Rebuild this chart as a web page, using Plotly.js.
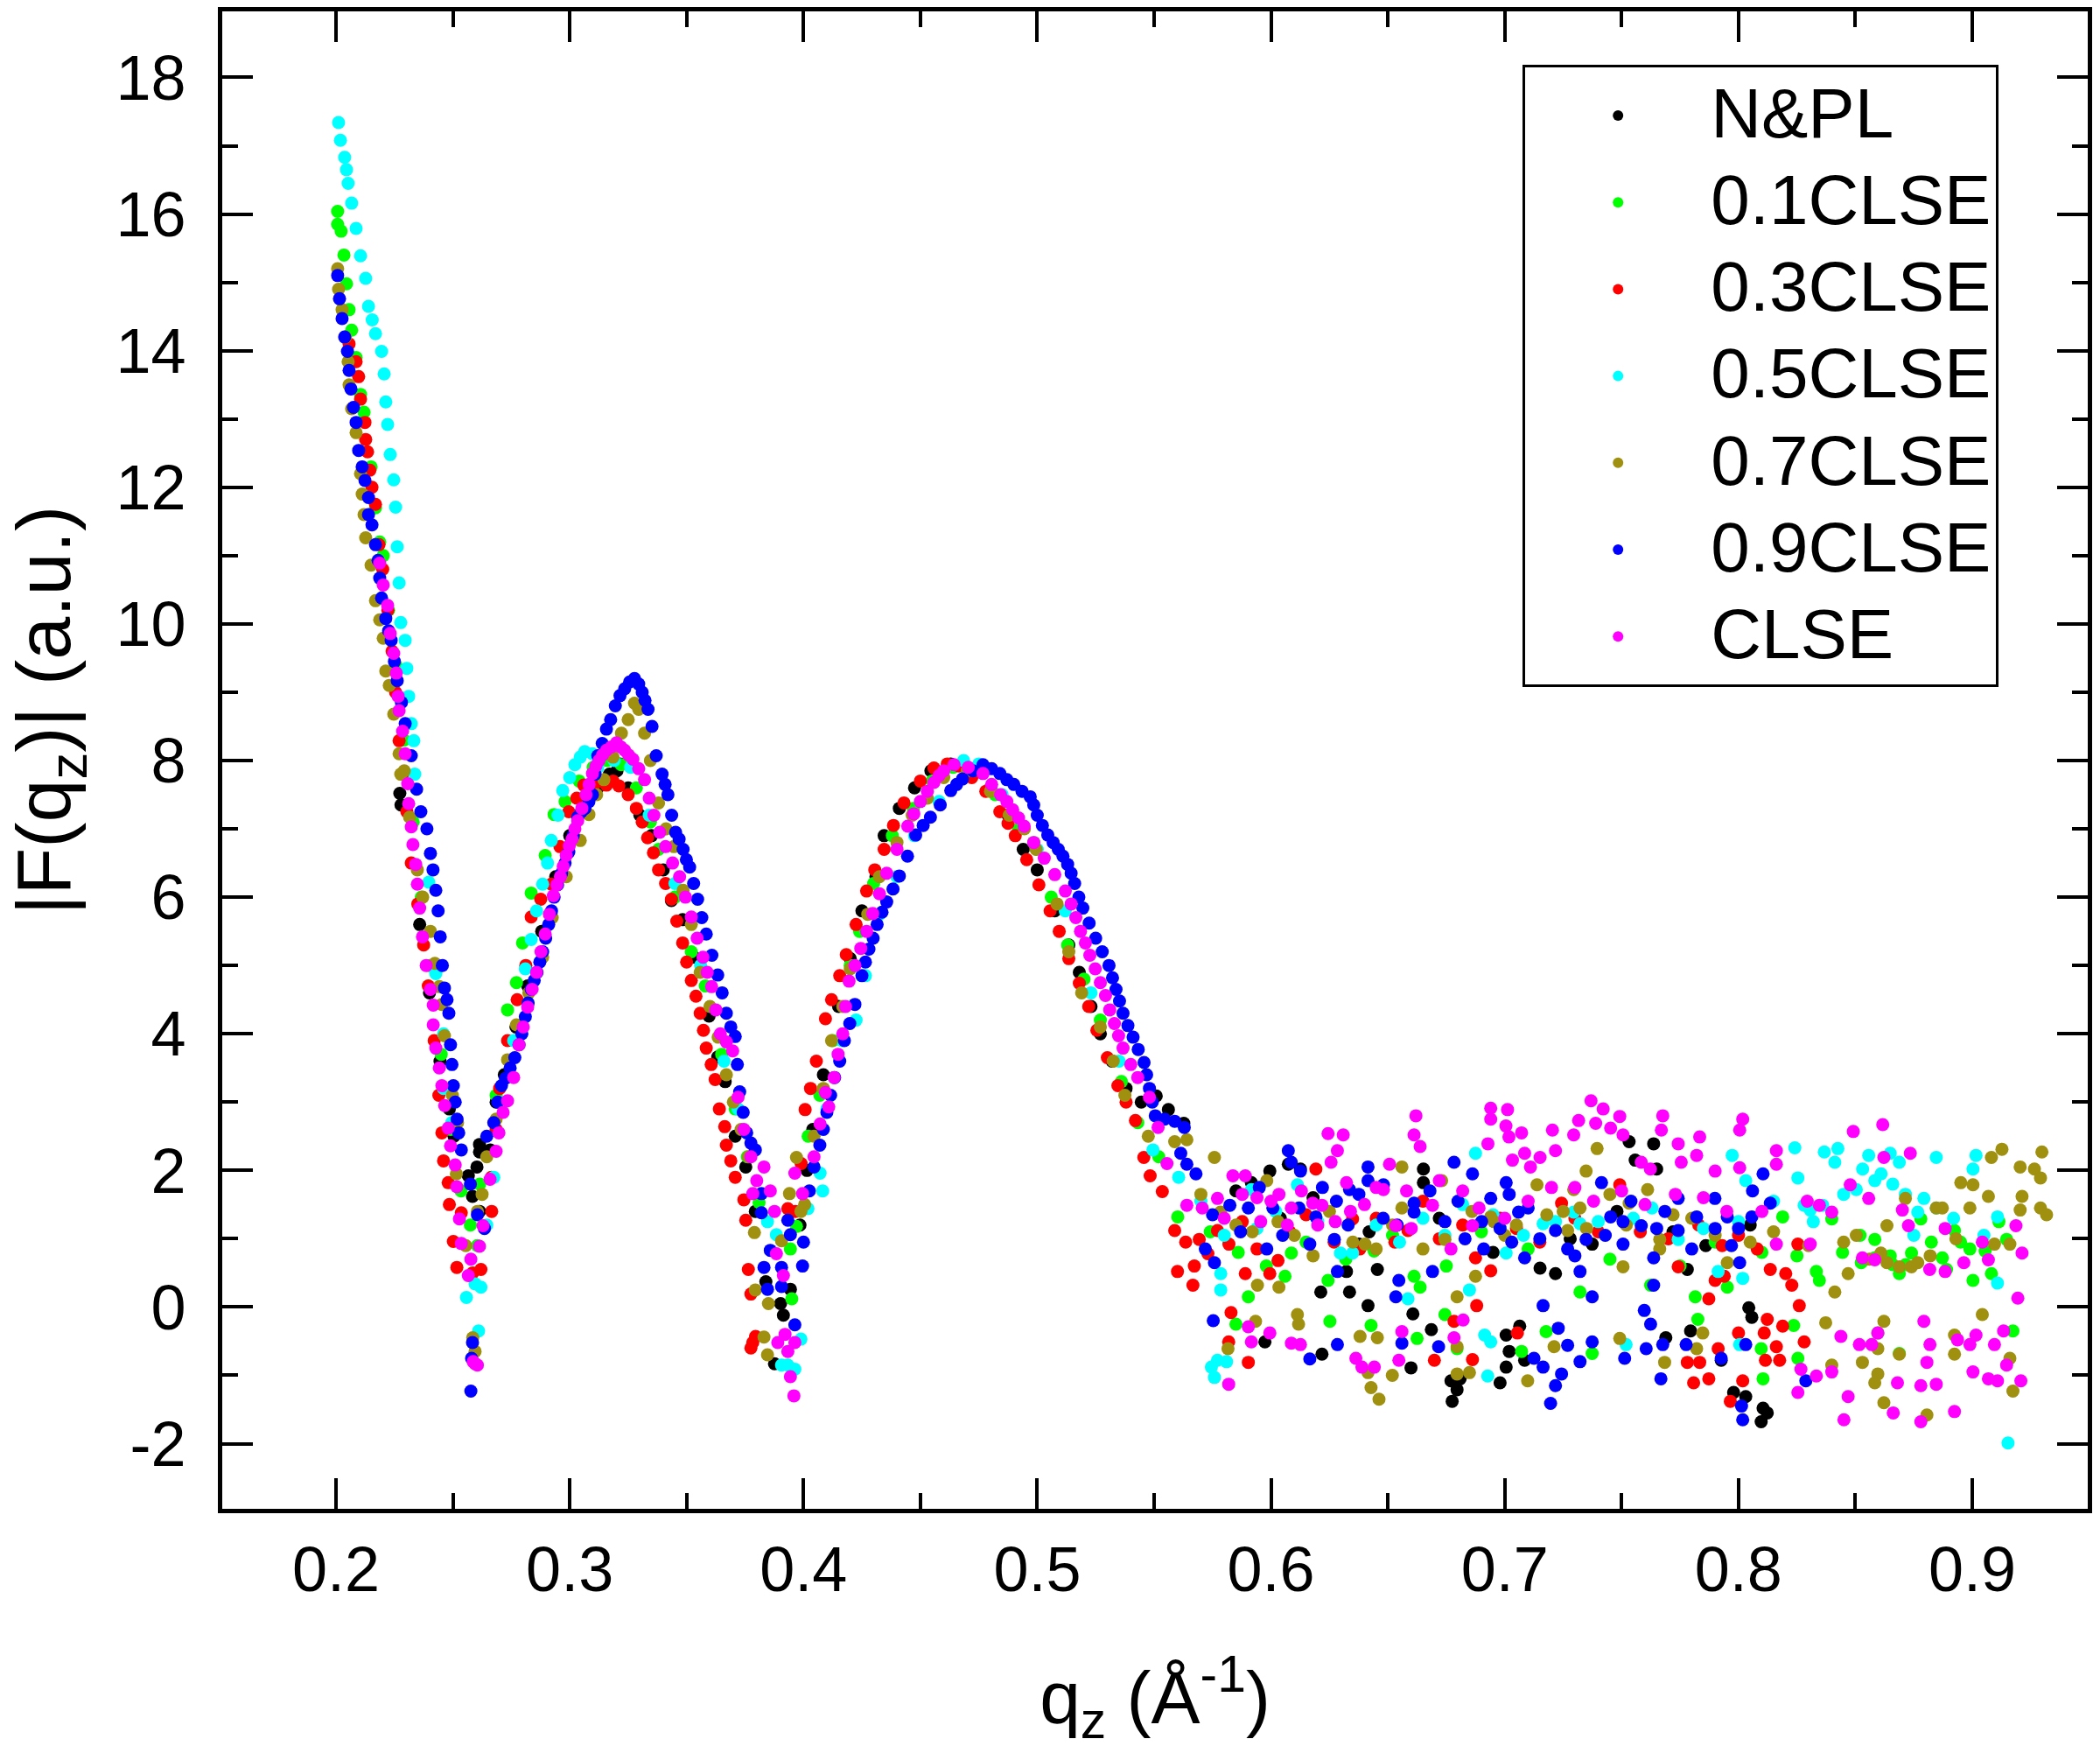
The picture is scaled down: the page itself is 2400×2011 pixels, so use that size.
<!DOCTYPE html>
<html><head><meta charset="utf-8">
<script src="https://cdn.plot.ly/plotly-3.0.1.min.js"></script>
<style>
html,body{margin:0;padding:0;background:#fff}
.legendtext{font-size:80px !important;transform:translateY(-4px)}
.g-ytitle{transform:translateY(-57px)}
</style></head><body><div id="chart" style="width:2400px;height:2011px"></div>
<script>
const seriesNames=["N&PL","0.1CLSE","0.3CLSE","0.5CLSE","0.7CLSE","0.9CLSE","CLSE"];
const seriesColors=["#000000","#00ff00","#ff0000","#00ffff","#a09010","#0000ff","#ff00ff"];
const xTickVals=[0.2,0.3,0.4,0.5,0.6,0.7,0.8,0.9];
const xTickText=["0.2","0.3","0.4","0.5","0.6","0.7","0.8","0.9"];
const yTickVals=[-2,0,2,4,6,8,10,12,14,16,18];
const yTickText=["-2","0","2","4","6","8","10","12","14","16","18"];

const npl=[[.2273,7.52],[.2278,7.35],[.2358,5.6],[.24,4.6],[.2445,3.6],[.2485,2.9],[.2505,2.5],[.2614,2.38],[.2614,2.27],[.2603,2.05],[.2566,1.92],[.2584,1.62],[.2614,1.4],
[.266,2.3],[.2685,3],[.272,3.4],[.277,4.1],[.282,4.7],[.288,5.5],[.294,6.3],[.3,6.9],[.306,7.3],[.312,7.6],[.317,7.8],[.3202,7.85],[.3215,7.95],[.325,7.6],[.33,7.2],[.335,6.9],[.34,6.4],[.3435,5.95],[.3483,5.67],[.3532,5.12],[.3596,4.26],[.3633,3.66],[.3665,3.3],[.3708,2.5],[.3753,2.05],[.3794,1.4],[.3839,.37],[.3902,.05],[.3914,-.12],[.3944,.26],[.3876,-.83],
[.3985,1.2],[.4015,2],[.404,2.6],[.4085,3.4],[.415,4.4],[.42,5.1],[.425,5.8],[.431,6.3],[.4345,6.9],[.441,7.3],[.4475,7.6],[.4545,7.85],[.463,7.95],[.472,7.8],[.48,7.6],[.4875,7.2],[.494,6.7],[.5,6.4],[.5075,5.8],[.5135,5.3],[.518,4.9],[.523,4.4],[.527,4],[.532,3.6],[.538,3.2],[.5445,3],[.5509,3.09],[.5561,2.89],[.5627,2.69],
[.5916,1.82],[.5995,1.99],[.6074,2.09],[.6126,2.02],[.6213,.22],[.6336,.22],[.6415,.02],[.6455,.55],[.6652,2.02],[.6652,1.82],[.7151,.57],[.7217,.49],[.7374,.92],[.7781,.55],[.7532,2.42],[.7637,2.39],[.7558,2.15],[.765,2.02],[.6376,.92],[.6323,.52],[.585,1.7],[.604,1.3],[.618,1.6],[.642,1.1],[.672,1.3],[.695,.8],[.728,1.0],[.748,1.4],[.772,1.1],[.786,.9],[.805,1.2],
[.5974,-.51],[.6218,-.69],[.6607,-.1],[.6599,-.89],[.6686,-.33],[.677,-1.08],[.6809,-1.05],[.6796,-1.21],[.6775,-1.38],[.698,-1.11],[.7006,-.88],[.7019,-.65],[.7006,-.41],[.7064,-.28],[.7085,-.78],[.7689,-.45],[.7795,-.35],[.7926,-.78],[.8044,-.01],[.8057,-.15],[.7979,-1.25],[.8031,-1.31],[.8105,-1.48],[.8123,-1.55],[.8097,-1.68]];

const cl01=[[.2007,16.04],[.2007,15.85],[.2022,15.75],[.2034,15.4],[.2045,14.98],[.2056,14.6],[.2067,14.3],[.2086,13.9],[.2105,13.36],[.212,13.1],[.215,12.3],[.2169,11.7],[.2187,11.2],[.2202,11],[.2225,10.2],[.2255,9.4],[.229,8.3],[.233,7.1],[.2365,6],[.24,5],[.245,3.7],[.249,2.6],[.2535,1.7],[.2575,1.2],[.2605,.9],
[.2615,1.8],[.2685,3.1],[.2734,4.35],[.2772,4.75],[.2798,5.33],[.2835,6.06],[.2895,6.61],[.2933,7.21],[.298,7.4],[.304,7.7],[.31,7.9],[.316,8],[.322,7.94],[.3285,7.6],[.3345,7.1],[.338,6.7],[.345,6],[.352,5.2],[.358,4.7],[.365,3.7],[.3708,2.9],[.376,2.2],[.381,1.53],[.3944,.85],[.395,.12],[.397,1.18],
[.402,2.5],[.407,3.1],[.4125,3.9],[.42,5],[.424,5.5],[.43,6.2],[.438,6.9],[.447,7.3],[.455,7.7],[.464,7.9],[.473,7.85],[.482,7.5],[.492,7],[.4985,6.8],[.506,6],[.513,5.3],[.52,4.8],[.527,4.2],[.536,3.3],[.543,2.7],[.552,2.2],[.5601,1.32],
[.5903,.15],[.6244,.39],[.6087,.79],[.606,.45],[.6441,.82],[.6612,.45],[.6638,.29],[.7322,.22],[.7624,.32],[.7815,.15],[.7952,.29],[.8189,1.32],[.8333,.52],[.8346,.39],[.8399,1.29],[.8583,.99],[.8649,.75],[.8688,.49],[.878,1.29],[.8872,.72],[.9003,.39],[.899,.85],[.9082,.49],[.9147,.99],[.8583,.72],[.874,.79],[.8924,1.12],[.9114,1.25],[.8445,.8],[.8525,.65],[.8715,.62],[.8825,.95],[.9055,.82],[.574,1.1],[.586,.8],[.598,.6],[.615,.95],[.632,.7],[.652,1.05],[.675,.6],[.69,1.1],[.71,.85],[.745,.7],[.775,.6],[.79,.95],[.81,.8],[.825,.75],[.852,1.05],[.866,.62],[.889,.55],[.895,.95],
[.585,-.25],[.6252,-.21],[.6428,-.27],[.6625,-.46],[.6744,-.11],[.6796,-.61],[.7177,-.36],[.7072,-.65],[.7374,-.68],[.7826,-.18],[.8105,-1.05],[.8097,-.61],[.8236,-.27],[.8254,-.75],[.8596,-.38],[.8688,-.68],[.9174,-.35]];

const cl03=[[.2056,14.1],[.2086,13.84],[.2097,13.62],[.2105,13.29],[.2124,12.95],[.2127,12.7],[.2135,12.52],[.2145,12.25],[.2154,12],[.2169,11.75],[.2184,11.16],[.22,10.8],[.2222,10.2],[.224,9.6],[.2255,9],[.227,8.29],[.2285,7.8],[.2303,7.25],[.2322,6.5],[.235,5.9],[.2375,5.3],[.2395,4.7],[.242,3.9],[.244,3.1],[.2453,2.55],[.246,2.14],[.248,1.82],[.2485,1.5],[.2536,1.38],[.2502,.96],[.2517,.58],[.2666,1.4],[.262,.55],[.2585,.5],
[.2665,1.9],[.2685,2.6],[.27,3.2],[.2734,3.9],[.2775,4.5],[.2812,5],[.2835,5.71],[.2876,5.97],[.2921,6.19],[.2958,6.74],[.2996,7.25],[.303,7.45],[.306,7.64],[.3105,7.65],[.3157,7.64],[.3185,7.7],[.321,7.63],[.325,7.5],[.3285,7.3],[.331,7.1],[.3333,6.87],[.3358,6.65],[.338,6.4],[.341,6.2],[.3435,5.97],[.3458,5.65],[.3483,5.33],[.35,5.05],[.352,4.78],[.354,4.55],[.3558,4.3],[.3572,4.05],[.3584,3.79],[.3605,3.55],[.3622,3.33],[.364,2.9],[.3663,2.64],[.367,2.37],[.3689,2.14],[.3708,1.9],[.3745,1.57],[.3753,1.27],[.3764,.55],[.3775,.19],[.3783,-.52],[.3933,1.44],[.3795,-.43],[.3775,-.6],
[.3965,1.4],[.399,2.1],[.4007,2.89],[.403,3.2],[.4055,3.6],[.4094,4.22],[.412,4.5],[.4155,4.85],[.4183,5.16],[.4225,5.6],[.427,6.09],[.4305,6.4],[.4345,6.7],[.4385,7.05],[.443,7.38],[.45,7.7],[.4558,7.89],[.4615,7.95],[.4665,7.92],[.472,7.75],[.478,7.55],[.484,7.25],[.4875,7.08],[.4906,6.9],[.4955,6.55],[.5007,6.18],[.5055,5.8],[.5094,5.5],[.5135,5.1],[.518,4.74],[.522,4.4],[.5255,4.05],[.53,3.65],[.5345,3.24],[.538,3],[.542,2.73],[.5456,2.19],[.5483,1.92],[.5535,1.69],[.5588,1.12],[.56,.52],[.5672,.6],[.5666,.32],[.5693,.99],[.5771,1.12],[.5877,1.25],[.589,.49],[.5995,.49],[.6192,2.02],[.6349,1.29],[.6586,1.12],[.6875,.72],[.694,.53],[.7243,1.52],[.7492,1.79],[.7742,.59],[.7873,.12],[.79,.39],[.7939,.45],[.8136,.55],[.8202,.49],[.8228,.32],[.8254,.92],[.608,1.1],[.627,.95],[.645,1.3],[.672,1.0],[.705,1.15],[.74,1.1],[.77,1.0],[.783,1.2],[.8,1.05],[.5635,.95],[.573,.78],[.582,.92],[.594,.85],[.603,.68],[.615,1.35],[.638,.85],[.653,.95],[.665,1.55],[.682,1.2],[.698,1.3],[.715,.95],[.73,1.3],[.758,1.1],[.793,.9],[.808,.85],
[.5829,-.08],[.5819,-.51],[.5903,-.81],[.688,.02],[.6783,-.21],[.6699,-.78],[.6862,-.77],[.7054,-.38],[.7781,-.81],[.7834,-.81],[.7808,-1.11],[.7913,-.61],[.7873,-1.05],[.8018,-1.08],[.7965,-1.38],[.8,-.38],[.8123,-.18],[.8189,-.28],[.811,-.38],[.8162,-.58],[.8115,-.78],[.8176,-.78],[.8281,-.51],[.826,.02]];

const cl05=[[.2011,17.34],[.2019,17.08],[.2037,16.83],[.2045,16.65],[.2052,16.45],[.2067,16.16],[.2086,15.79],[.2105,15.39],[.2127,15.06],[.2139,14.65],[.2155,14.45],[.2169,14.25],[.2195,13.99],[.2206,13.66],[.2213,13.25],[.2221,12.92],[.2232,12.48],[.2247,12.11],[.2255,11.71],[.2262,11.13],[.227,10.6],[.2277,10.02],[.2296,9.76],[.2303,9.35],[.2311,8.94],[.2322,8.54],[.2333,8.29],[.2337,7.8],[.2397,6.22],[.2427,4.88],[.246,4],[.246,3.2],[.2495,2.7],
[.2558,.14],[.262,.29],[.2595,.34],[.261,-.35],[.2645,1.2],[.2675,1.9],[.272,3],[.276,3.9],[.281,4.95],[.2835,5.38],[.2858,5.8],[.2884,6.19],[.2905,6.5],[.2921,6.83],[.295,7.2],[.297,7.56],[.3,7.75],[.3022,7.94],[.3045,8.05],[.3064,8.13],[.3097,8.1],[.312,7.9],[.319,8],[.326,7.9],[.334,7.2],[.345,6.2],[.356,5],[.366,3.6],[.372,2.9],[.3846,1.25],[.3884,1.06],[.4019,1.44],[.4071,1.96],[.4082,1.7],[.3989,-.47],[.3906,-.85],[.3963,-.91],[.3933,-.85],
[.41,2.9],[.4165,3.9],[.4225,4.2],[.4265,4.85],[.4325,5.75],[.44,6.3],[.4475,6.9],[.458,7.4],[.4685,8],[.475,7.95],[.485,7.5],[.5,6.7],[.512,5.8],[.523,4.6],[.535,3.6],[.5495,2.3],[.5605,1.9],
[.5785,.49],[.5785,.25],[.6875,2.25],[.8241,2.33],[.8367,2.27],[.8425,2.32],[.8412,2.12],[.8557,2.22],[.8649,2.25],[.8688,2.12],[.8531,2.02],[.861,1.95],[.8846,2.19],[.9003,2.02],[.9016,2.22],[.7973,2.22],[.8254,1.89],[.8307,1.42],[.8281,1.49],[.832,1.25],[.836,1.49],[.8504,1.72],[.8583,1.85],[.8714,1.65],[.8793,1.59],[.8767,1.39],[.8846,1.45],[.9108,1.32],[.9108,.35],[.5916,1.72],[.6113,1.79],[.6297,.79],[.6349,.79],[.6586,.12],[.6744,1.05],[.6849,.25],[.7006,.79],[.7217,1.25],[.7164,1.22],[.7295,1.39],[.7322,1.22],[.7742,.99],[.8018,.42],[.8031,1.85],[.7913,.52],[.602,1.4],[.645,1.2],[.665,1.3],[.755,1.3],[.57,1.55],[.58,1.05],[.594,1.15],[.62,1.25],[.655,.95],[.682,1.5],[.695,1.35],[.708,1.05],[.74,1.25],[.763,1.45],[.785,1.15],[.8,1.25],[.815,1.55],[.845,1.65],[.866,1.8],[.892,1.3],[.905,1.05],[.875,1.05],
[.5758,-1.03],[.5745,-.88],[.5771,-.78],[.581,-.8],[.6914,-.41],[.694,-.51],[.6927,-1.01],[.7519,-.55],[.8005,-.55],[.9153,-1.99]];

const cl07=[[.2007,15.2],[.2011,14.9],[.2026,14.6],[.204,14.2],[.2052,13.84],[.2056,13.5],[.2067,13.15],[.2086,12.8],[.2105,12.2],[.2112,11.9],[.212,11.6],[.2127,11.26],[.215,10.86],[.2169,10.34],[.2187,10.06],[.2202,9.79],[.2213,9.31],[.2228,9.1],[.2247,8.68],[.227,8.1],[.2277,7.8],[.2292,7.85],[.2315,7.17],[.2348,6.4],[.2371,6],[.2404,5.5],[.2423,5.03],[.2442,4.69],[.2453,4.43],[.2464,3.97],[.2498,3.1],[.252,2.7],[.2515,1.95],[.2605,1.4],[.2625,1.65],[.2555,.9],[.2595,-.65],[.2585,-.45],[.2645,2.2],[.2685,2.75],
[.2734,3.62],[.2772,4.13],[.2825,4.6],[.2884,5.12],[.2925,5.7],[.2985,6.3],[.3045,6.83],[.3082,7.21],[.3115,7.5],[.3146,7.72],[.3185,8.05],[.3221,8.4],[.325,8.6],[.3277,8.84],[.3295,8.75],[.332,8.4],[.3345,8],[.338,7.38],[.3412,7],[.3446,6.74],[.3485,6.1],[.352,5.6],[.3558,4.9],[.36,4.4],[.3635,3.95],[.367,3.4],[.37,3],[.3733,2.6],[.3765,2.2],[.379,1.09],[.3794,.25],[.385,.05],[.3831,-.44],[.3846,-.7],[.3906,.97],[.3989,1.4],[.397,2.19],[.394,1.66],
[.4005,1.5],[.4045,2.5],[.4085,3.2],[.412,3.9],[.4168,4.4],[.42,4.95],[.4275,5.75],[.4325,6.3],[.44,6.8],[.4465,7.2],[.453,7.45],[.46,7.75],[.47,7.85],[.48,7.55],[.488,7.2],[.4945,7],[.4995,6.7],[.5085,5.9],[.5135,5.2],[.519,4.6],[.527,4.1],[.5325,3.6],[.5375,3.1],[.5475,2.5],[.5588,2.42],[.564,2.45],[.5758,2.19],[.5982,1.85],[.5784,1.39],[.5942,.32],[.6034,.29],[.656,2.05],[.673,1.85],[.6402,.92],[.6796,.15],[.6875,.45],[.6954,1.25],[.7138,1.79],[.7295,1.72],[.7348,1.99],[.7322,1.45],[.7395,2.32],[.7506,.59],[.7611,1.72],[.7532,1.52],[.7663,.85],[.7952,.65],[.8412,.22],[.8469,.49],[.8504,1.05],[.8635,1.19],[.8714,1.59],[.8635,.65],[.874,.59],[.8846,1.45],[.8951,1.82],[.9003,1.79],[.899,1.45],[.9069,1.62],[.9082,2.19],[.9127,2.31],[.9095,.92],[.9161,.92],[.9213,1.62],[.9205,1.42],[.9292,1.45],[.9318,1.35],[.9205,2.05],[.9266,2.02],[.9298,2.27],[.9292,1.89],[.8872,1.45],[.656,1.45],[.6744,.99],[.694,1.32],[.7269,1.12],[.7663,.99],[.8609,.79],[.8688,.59],[.8767,.65],[.585,1.2],[.61,1.05],[.625,1.4],[.645,.85],[.705,1.2],[.718,1.35],[.745,1.65],[.78,1.3],[.815,1.1],[.83,.9],[.57,1.65],[.592,1.1],[.603,1.25],[.618,.75],[.635,.95],[.652,1.2],[.665,.85],[.686,1.4],[.7,1.05],[.725,1.4],[.735,1.15],[.752,1.2],[.772,1.35],[.79,1.05],[.805,.95],[.845,.95],[.856,.7],[.882,.75],[.893,1.0],
[.5934,-.21],[.5816,-.61],[.6113,-.11],[.6118,-.25],[.6381,-.43],[.6455,-.45],[.6428,-1.18],[.6462,-1.35],[.6415,-.96],[.6519,-1],[.6796,-.58],[.6796,-.98],[.6849,-.96],[.7098,-1.08],[.7211,-.58],[.7492,-.46],[.7684,-.81],[.7847,-.38],[.7821,-.61],[.8373,-.23],[.8622,-.21],[.8596,-.61],[.8688,-.69],[.8596,-.98],[.8583,-1.11],[.8622,-1.4],[.8806,-1.58],[.8924,-.41],[.8924,-.69],[.9043,-.11],[.9161,-.75],[.9174,-1.23],[.8399,-.85],[.853,-.81]];

const cl09=[[.2007,15.1],[.2015,14.76],[.2026,14.47],[.2037,14.2],[.2049,13.99],[.2056,13.71],[.2064,13.44],[.2075,13.17],[.2086,12.95],[.2097,12.54],[.2112,12.3],[.2124,12.1],[.2139,11.85],[.2139,11.6],[.2154,11.45],[.2169,11.16],[.218,10.93],[.2187,10.67],[.2195,10.38],[.2213,10.08],[.2225,9.9],[.2236,9.76],[.225,9.45],[.2262,9.17],[.228,8.85],[.2296,8.54],[.2322,8.07],[.2345,7.58],[.2363,7.25],[.2389,7],[.2404,6.64],[.2415,6.4],[.2427,6.1],[.2437,5.8],[.2446,5.42],[.2455,5],[.2464,4.67],[.2475,4.5],[.2483,4.3],[.249,3.84],[.2496,3.55],[.2502,3.24],[.251,3],[.2518,2.75],[.2525,2.55],[.2536,2.3],[.2577,-1.23],[.2584,-.52],[.258,-.75],
[.2575,1.8],[.2605,1.35],[.2635,1.15],[.2645,2.5],[.2675,2.7],[.2692,3],[.2708,3.24],[.2725,3.35],[.2745,3.5],[.2765,3.65],[.2783,3.84],[.2795,4],[.281,4.25],[.2822,4.45],[.2835,4.65],[.2848,4.78],[.286,4.9],[.2872,5.05],[.2884,5.2],[.2897,5.4],[.291,5.6],[.2922,5.8],[.2933,6],[.2948,6.18],[.2965,6.35],[.298,6.5],[.2996,6.66],[.3015,6.9],[.3034,7.17],[.305,7.25],[.3065,7.3],[.3082,7.4],[.3097,7.5],[.3108,7.8],[.312,8.07],[.3139,8.25],[.3157,8.46],[.3175,8.6],[.3195,8.8],[.3215,8.95],[.3235,9.05],[.3256,9.15],[.3277,9.2],[.3295,9.12],[.331,9],[.3322,8.88],[.3335,8.75],[.3352,8.5],[.337,8.07],[.3395,7.8],[.3408,7.65],[.342,7.5],[.3436,7.2],[.3453,6.95],[.3468,6.85],[.3485,6.7],[.3499,6.55],[.3513,6.44],[.353,6.2],[.3547,5.97],[.3565,5.7],[.3584,5.46],[.3608,5.15],[.3633,4.86],[.3652,4.6],[.367,4.3],[.3689,4.1],[.3708,3.96],[.3717,3.55],[.3727,3.15],[.3742,2.85],[.3757,2.55],[.3775,2.4],[.3794,2.3],[.382,1.66],[.382,1.38],[.3933,1.27],[.3944,1.06],[.4,.95],[.3858,.83],[.3831,.58],[.3996,.6],[.3906,.58],[.3846,.26],[.3963,-.26],[.3906,.3],
[.4025,1.7],[.4045,2.05],[.407,2.37],[.4085,2.6],[.41,2.85],[.4116,3.1],[.4133,3.36],[.4155,3.6],[.4175,3.9],[.4198,4.15],[.422,4.43],[.425,4.85],[.4265,5.05],[.428,5.24],[.4298,5.4],[.4315,5.6],[.4336,5.78],[.4356,5.93],[.4383,6.12],[.441,6.31],[.4445,6.6],[.448,6.91],[.4512,7.05],[.4543,7.17],[.4585,7.35],[.463,7.56],[.4655,7.65],[.468,7.73],[.4725,7.85],[.4768,7.94],[.4805,7.88],[.484,7.81],[.487,7.72],[.49,7.65],[.4935,7.55],[.497,7.47],[.4985,7.35],[.5,7.2],[.5022,7.05],[.5045,6.91],[.5068,6.8],[.509,6.7],[.511,6.6],[.513,6.48],[.5145,6.35],[.516,6.2],[.5178,6],[.5195,5.84],[.5222,5.62],[.525,5.4],[.5278,5.2],[.5307,5],[.5322,4.82],[.5337,4.65],[.5352,4.48],[.5367,4.3],[.5388,4.12],[.541,3.95],[.5432,3.77],[.5457,3.58],[.5468,3.4],[.548,3.2],[.5492,3],[.5505,2.8],[.5545,2.75],[.5588,2.72],[.5629,2.63],[.5614,2.25],[.564,2.09],[.5679,1.95],[.5719,.85],[.5758,.65],[.5824,1.49],[.5903,1.45],[.5982,.85],[.6074,2.29],[.6087,2.12],[.6126,1.99],[.6166,.92],[.6271,.99],[.6284,.52],[.6415,2.05],[.6415,1.85],[.6336,1.72],[.6481,1.79],[.6547,.39],[.6534,.15],[.6612,1.39],[.6691,.52],[.6783,2.12],[.6862,1.95],[.694,1.59],[.7006,1.82],[.698,1.15],[.7085,.72],[.7019,1.65],[.7269,.85],[.7322,.52],[.7374,.15],[.7414,1.82],[.7453,1.32],[.7506,.92],[.7637,.72],[.7637,.32],[.7742,1.59],[.7899,1.59],[.7952,1.32],[.8005,.65],[.8105,1.95],[.8136,1.52],[.6008,1.45],[.6192,1.32],[.6376,1.65],[.6612,1.52],[.6744,1.25],[.6901,1.25],[.7059,1.39],[.7217,1.12],[.7348,.99],[.7506,1.25],[.7584,1.19],[.7742,1.12],[.7821,1.32],[.8057,1.32],[.612,1.45],[.628,1.55],[.654,1.2],[.683,1.0],[.71,1.45],[.7685,1.4],[.8,1.15],[.575,1.35],[.587,1.1],[.595,1.75],[.605,1.05],[.622,1.75],[.633,1.2],[.648,1.3],[.668,1.7],[.68,1.55],[.691,.85],[.703,.95],[.715,1.0],[.73,.75],[.743,1.05],[.754,1.55],[.765,1.15],[.78,.85],[.79,1.15],[.797,.9],[.806,1.7],
[.5753,-.2],[.6284,-.55],[.6166,-.76],[.656,-.53],[.6717,-.58],[.7164,.02],[.7125,-.75],[.7164,-.88],[.7229,-.31],[.7269,-.56],[.7322,-.8],[.7243,-.98],[.7217,-1.15],[.7196,-1.41],[.7374,-.51],[.7513,-.75],[.7597,-.05],[.7624,-.25],[.7605,-.61],[.7676,-.55],[.7668,-1.05],[.7776,-.55],[.8018,-1.65],[.8013,-1.45],[.8031,-.55],[.7926,-.75],[.8288,-1.08]];

const clse=[[.2187,10.89],[.2202,10.57],[.2221,10.27],[.2232,9.86],[.2247,9.57],[.2258,9.28],[.2266,8.94],[.227,8.73],[.2285,8.43],[.2296,8.1],[.2307,7.66],[.2311,7.37],[.2322,7.03],[.2329,6.77],[.2341,6.48],[.2348,6.19],[.2358,5.84],[.237,5.42],[.2386,5],[.2404,4.65],[.2416,4.42],[.2416,4.13],[.2427,3.79],[.2442,3.5],[.2453,3.24],[.2465,2.95],[.248,2.62],[.249,2.36],[.251,2.08],[.2517,1.76],[.2528,1.29],[.2536,.93],[.2566,.46],[.2577,.7],[.2595,-.83],[.2605,-.85],[.2587,-.8],
[.2614,.89],[.2629,1.19],[.2659,1.87],[.2685,2.28],[.2697,2.55],[.2715,2.85],[.2734,3.02],[.276,3.36],[.2783,3.84],[.2801,4.1],[.282,4.39],[.2839,4.65],[.2858,4.9],[.2877,5.2],[.2895,5.46],[.2913,5.75],[.293,6.02],[.2945,6.18],[.296,6.3],[.2972,6.45],[.2985,6.61],[.2998,6.75],[.301,6.85],[.3022,7],[.3034,7.12],[.3052,7.3],[.307,7.5],[.3083,7.65],[.3097,7.81],[.3112,7.92],[.3125,8],[.314,8.08],[.3157,8.15],[.3178,8.2],[.32,8.26],[.3218,8.2],[.3235,8.15],[.3252,8.08],[.327,8.02],[.3295,7.88],[.332,7.72],[.334,7.45],[.336,7.2],[.3385,6.95],[.341,6.74],[.344,6.5],[.347,6.3],[.3495,6],[.352,5.71],[.3545,5.4],[.357,5.12],[.3588,4.9],[.3607,4.69],[.3625,4.35],[.3644,4],[.367,3.88],[.3697,3.75],[.372,3.07],[.3745,2.6],[.3775,2.2],[.3831,2.05],[.38,1.85],[.3783,1.66],[.3858,1.7],[.3876,1.4],[.3884,.78],[.3914,.46],[.3921,-.4],[.389,-.52],[.3933,-.65],[.3963,-.52],[.3944,-1.02],[.3959,-1.3],
[.3996,1.66],[.3963,1.96],[.4045,2.2],[.4071,2.68],[.4108,2.93],[.4094,3.14],[.4131,3.36],[.4148,3.7],[.4168,4],[.418,4.4],[.4195,4.77],[.422,5],[.4245,5.25],[.427,5.5],[.4296,5.76],[.4325,6.05],[.4356,6.35],[.44,6.7],[.4446,7.04],[.4472,7.22],[.45,7.4],[.453,7.55],[.4558,7.68],[.458,7.78],[.46,7.85],[.4644,7.94],[.4705,7.9],[.4768,7.81],[.4805,7.65],[.4843,7.5],[.487,7.4],[.4895,7.28],[.492,7.16],[.4944,7.04],[.4985,6.8],[.503,6.57],[.5075,6.33],[.512,6.09],[.5145,5.9],[.5165,5.7],[.5185,5.5],[.5206,5.33],[.5225,5.15],[.5248,4.95],[.527,4.75],[.5292,4.56],[.531,4.35],[.533,4.15],[.5348,3.97],[.5367,3.79],[.54,3.55],[.543,3.36],[.548,3.07],[.5517,2.63],[.5555,2.1],
[.6244,2.54],[.6309,2.52],[.6284,2.29],[.6257,2.12],[.662,2.8],[.6612,2.52],[.6638,2.35],[.694,2.91],[.7012,2.89],[.694,2.75],[.7005,2.65],[.7072,2.55],[.7018,2.49],[.6928,2.39],[.7085,2.25],[.7033,2.15],[.711,2.05],[.7151,2.19],[.7204,2.59],[.7217,2.29],[.7295,2.52],[.7316,2.73],[.7369,3.02],[.7421,2.9],[.7389,2.69],[.7453,2.62],[.7492,2.79],[.7506,2.52],[.7676,2.8],[.767,2.59],[.7742,2.39],[.7834,2.49],[.8018,2.75],[.8005,2.59],[.7821,2.22],[.7755,2.12],[.7584,2.12],[.7623,2.02],[.8005,2.04],[.79,1.99],[.8162,2.29],[.8162,2.09],[.8491,2.57],[.8617,2.67],[.8622,2.19],[.8735,2.25],
[.564,1.49],[.5706,1.45],[.5771,1.59],[.5837,1.92],[.589,1.92],[.5877,1.65],[.5956,1.25],[.6034,1.65],[.6087,1.45],[.6179,1.52],[.6218,1.49],[.6323,1.82],[.6507,2.09],[.6481,1.72],[.6534,1.19],[.6691,1.49],[.677,.85],[.6862,1.19],[.8307,.92],[.8294,1.55],[.8346,1.49],[.8399,1.39],[.8478,1.79],[.8557,1.59],[.853,.72],[.8583,.69],[.8701,1.42],[.8727,1.19],[.8818,.55],[.8884,.52],[.8884,1.15],[.8964,.65],[.9069,.69],[.9043,.95],[.9213,.79],[.9187,1.19],[.9195,.13],[.8162,.92],[.6,1.55],[.613,1.7],[.6275,1.25],[.64,1.5],[.66,1.15],[.682,1.7],[.7,1.3],[.72,1.75],[.738,1.55],[.76,1.5],[.785,1.6],[.81,1.4],[.58,1.3],[.594,1.6],[.607,1.2],[.62,1.2],[.634,1.4],[.645,1.75],[.658,1.7],[.672,1.85],[.689,1.45],[.71,1.55],[.73,1.75],[.75,1.7],[.773,1.65],[.795,1.4],
[.5819,-1.13],[.5903,-.29],[.5916,-.51],[.5995,-.38],[.6087,-.53],[.6126,-.55],[.6363,-.75],[.6389,-.88],[.6442,-.88],[.6547,-.78],[.656,-.36],[.6783,-.45],[.6822,-.19],[.8254,-1.25],[.8267,-.91],[.8333,-1.01],[.8399,-.95],[.8451,-1.65],[.8469,-1.31],[.8438,-.43],[.8517,-.55],[.857,-.55],[.8596,-.38],[.8662,-1.55],[.868,-1.11],[.878,-1.68],[.878,-1.15],[.8846,-1.13],[.8793,-.21],[.8819,-.55],[.8806,-.81],[.8924,-1.53],[.8937,-.48],[.899,-.55],[.9016,-.41],[.9003,-.95],[.9069,-1.05],[.9108,-1.08],[.9095,-.55],[.9134,-.35],[.9147,-.85],[.9208,-1.08]];

const seriesPoints=[npl,cl01,cl03,cl05,cl07,cl09,clse];
const traces=seriesNames.map((name,i)=>({
  type:'scatter',mode:'markers',name:name,
  x:seriesPoints[i].map(p=>p[0]),y:seriesPoints[i].map(p=>p[1]),
  marker:{color:seriesColors[i],size:15,symbol:'circle',line:{width:0}}
}));
const FONT="Liberation Sans, Arial, sans-serif";
const layout={
  width:2400,height:2011,autosize:false,paper_bgcolor:'#fff',plot_bgcolor:'#fff',
  margin:{l:254,r:14,t:12.5,b:286.5,pad:0},showlegend:true,font:{family:FONT,color:'#000'},
  xaxis:{range:[.15134,.94941],tickmode:'array',tickvals:xTickVals,ticktext:xTickText,ticks:'inside',ticklen:35,tickwidth:4,tickcolor:'#000',
    minor:{dtick:.05,tick0:.15,ticks:'inside',ticklen:18,tickwidth:4,tickcolor:'#000',showgrid:false},
    showline:true,linewidth:5,linecolor:'#000',mirror:'ticks',showgrid:false,zeroline:false,ticklabelstandoff:3,
    tickfont:{family:FONT,size:72,color:'#000'},
    title:{text:'q<sub>z</sub> (Å<sup>-1</sup>)',font:{family:FONT,size:84,color:'#000'},standoff:79}},
  yaxis:{range:[-2.954,18.967],tickmode:'array',tickvals:yTickVals,ticktext:yTickText,ticks:'inside',ticklen:35,tickwidth:4,tickcolor:'#000',
    minor:{dtick:1,tick0:-3,ticks:'inside',ticklen:18,tickwidth:4,tickcolor:'#000',showgrid:false},
    showline:true,linewidth:5,linecolor:'#000',mirror:'ticks',showgrid:false,zeroline:false,ticklabelstandoff:22,
    tickfont:{family:FONT,size:72,color:'#000'},
    title:{text:'|F(q<sub>z</sub>)| (a.u.)',font:{family:FONT,size:88,color:'#000'},standoff:24}},
  legend:{x:.6971,y:.9641,xanchor:'left',yanchor:'top',bgcolor:'#fff',bordercolor:'#000',borderwidth:3,
    font:{family:FONT,size:74,color:'#000'},itemwidth:202,itemsizing:'constant',entrywidth:345,entrywidthmode:'pixels',traceorder:'normal'}
};
Plotly.newPlot('chart',traces,layout,{displayModeBar:false,staticPlot:true});
</script></body></html>
